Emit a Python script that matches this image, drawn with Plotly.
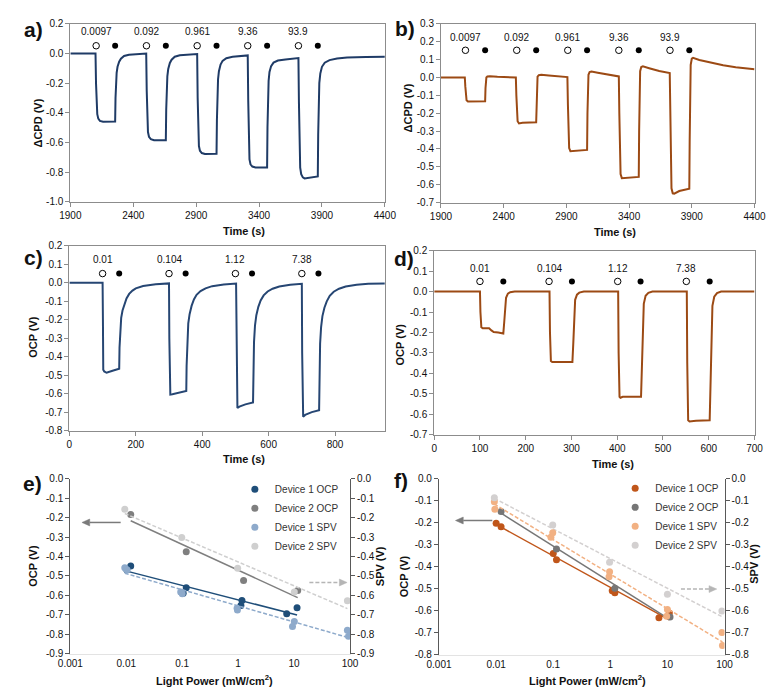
import numpy as np
import plotly.graph_objects as go

FONT = "Arial, 'Liberation Sans', sans-serif"
W, H = 774, 687

# ---------------- DATA ----------------
# Panel a: Device 1 dCPD vs time
a_points = [(1900, 0.000), (2000, 0.000), (2100, 0.000),
            (2104, -0.20), (2108, -0.36), (2114, -0.41), (2122, -0.44), (2135, -0.455), (2160, -0.460), (2210, -0.461), (2256, -0.459),
            (2259, -0.30), (2263, -0.18), (2268, -0.13), (2275, -0.09), (2288, -0.055), (2302, -0.035), (2327, -0.017), (2366, -0.009), (2430, -0.003), (2503, -0.001),
            (2507, -0.25), (2511, -0.46), (2517, -0.53), (2525, -0.562), (2540, -0.578), (2565, -0.585), (2610, -0.587), (2659, -0.585),
            (2662, -0.38), (2666, -0.22), (2671, -0.155), (2678, -0.105), (2691, -0.064), (2705, -0.042), (2730, -0.022), (2770, -0.012), (2840, -0.006), (2908, -0.004),
            (2912, -0.30), (2916, -0.55), (2922, -0.625), (2930, -0.656), (2945, -0.672), (2970, -0.678), (3020, -0.679), (3062, -0.677),
            (3065, -0.45), (3069, -0.25), (3074, -0.175), (3081, -0.12), (3094, -0.075), (3110, -0.05), (3140, -0.032), (3190, -0.022), (3250, -0.016), (3310, -0.013),
            (3314, -0.32), (3318, -0.63), (3324, -0.715), (3332, -0.748), (3347, -0.763), (3372, -0.770), (3420, -0.771), (3464, -0.770),
            (3467, -0.50), (3471, -0.27), (3476, -0.185), (3483, -0.125), (3496, -0.085), (3515, -0.062), (3550, -0.048), (3610, -0.040), (3670, -0.034), (3713, -0.031),
            (3717, -0.33), (3721, -0.67), (3727, -0.77), (3735, -0.815), (3748, -0.836), (3762, -0.843), (3800, -0.839), (3867, -0.830),
            (3870, -0.55), (3874, -0.30), (3879, -0.20), (3887, -0.135), (3900, -0.09), (3922, -0.062), (3960, -0.045), (4020, -0.034), (4100, -0.028), (4250, -0.024), (4400, -0.022)]
a_on = [2105, 2505, 2908, 3310, 3713]
a_off = [2256, 2659, 3062, 3464, 3867]
a_power = ["0.0097", "0.092", "0.961", "9.36", "93.9"]

# Panel b: Device 2 dCPD vs time
b_points = [(1900, 0.000), (2000, 0.000), (2090, 0.000),
            (2094, -0.05), (2098, -0.11), (2104, -0.128), (2115, -0.135), (2150, -0.134), (2252, -0.133),
            (2255, -0.06), (2258, -0.02), (2262, 0.000), (2270, 0.006), (2290, 0.007), (2350, 0.004), (2420, 0.001), (2497, 0.000),
            (2501, -0.10), (2505, -0.21), (2511, -0.245), (2522, -0.257), (2550, -0.253), (2659, -0.250),
            (2662, -0.12), (2665, -0.03), (2670, 0.005), (2680, 0.013), (2700, 0.015), (2760, 0.011), (2840, 0.005), (2908, 0.002),
            (2912, -0.15), (2916, -0.33), (2922, -0.395), (2932, -0.412), (2960, -0.410), (3065, -0.405),
            (3068, -0.20), (3071, -0.05), (3076, 0.015), (3085, 0.030), (3100, 0.033), (3150, 0.027), (3230, 0.015), (3318, 0.006),
            (3322, -0.20), (3326, -0.45), (3332, -0.54), (3342, -0.563), (3370, -0.562), (3477, -0.556),
            (3480, -0.30), (3483, -0.06), (3488, 0.035), (3497, 0.058), (3510, 0.062), (3560, 0.052), (3640, 0.036), (3724, 0.025),
            (3728, -0.25), (3732, -0.52), (3738, -0.62), (3748, -0.648), (3760, -0.650), (3800, -0.635), (3880, -0.622),
            (3883, -0.35), (3886, -0.05), (3891, 0.07), (3900, 0.105), (3910, 0.110), (3960, 0.098), (4050, 0.082), (4150, 0.068), (4250, 0.057), (4400, 0.046)]
b_on = [2095, 2504, 2911, 3318, 3726]
b_off = [2252, 2659, 3065, 3477, 3880]
b_power = ["0.0097", "0.092", "0.961", "9.36", "93.9"]

# Panel c: Device 1 OCP vs time
c_points = [(0, 0.000), (50, 0.000), (100, 0.000),
            (101, -0.20), (102, -0.47), (105, -0.480), (112, -0.487), (130, -0.476), (150, -0.465),
            (151, -0.35), (153, -0.25), (156, -0.19), (160, -0.15), (165, -0.12), (172, -0.085), (180, -0.06), (190, -0.042), (200, -0.03), (222, -0.017), (260, -0.008), (300, -0.003),
            (301, -0.30), (302, -0.59), (304, -0.605), (310, -0.603), (330, -0.593), (352, -0.586),
            (353, -0.45), (355, -0.30), (358, -0.22), (362, -0.17), (368, -0.125), (375, -0.09), (383, -0.065), (395, -0.045), (410, -0.03), (430, -0.018), (465, -0.009), (502, -0.004),
            (503, -0.35), (504, -0.66), (506, -0.678), (512, -0.670), (530, -0.658), (553, -0.648),
            (554, -0.50), (556, -0.32), (559, -0.23), (563, -0.175), (569, -0.13), (576, -0.095), (585, -0.068), (597, -0.047), (612, -0.032), (632, -0.02), (665, -0.01), (700, -0.005),
            (701, -0.38), (702, -0.71), (704, -0.725), (710, -0.715), (730, -0.700), (752, -0.690),
            (753, -0.52), (755, -0.33), (758, -0.24), (762, -0.18), (768, -0.135), (775, -0.10), (784, -0.07), (796, -0.048), (812, -0.032), (832, -0.02), (865, -0.01), (900, -0.005), (950, -0.003)]
c_on = [100, 300, 500, 700]
c_off = [150, 350, 550, 750]
c_power = ["0.01", "0.104", "1.12", "7.38"]

# Panel d: Device 2 OCP vs time
d_points = [(0, 0.000), (50, 0.000), (100, 0.000),
            (101, -0.10), (103, -0.175), (106, -0.180), (120, -0.180), (125, -0.190), (130, -0.198), (140, -0.200), (151, -0.205),
            (153, -0.15), (155, -0.07), (157, -0.03), (161, -0.01), (166, -0.003), (176, 0.000), (252, 0.000),
            (253, -0.20), (255, -0.340), (258, -0.345), (302, -0.345),
            (304, -0.25), (306, -0.09), (308, -0.04), (312, -0.015), (317, -0.005), (327, 0.000), (402, 0.000),
            (403, -0.30), (405, -0.515), (407, -0.520), (412, -0.515), (452, -0.515),
            (454, -0.38), (456, -0.14), (458, -0.06), (462, -0.02), (468, -0.006), (477, 0.000), (552, 0.000),
            (553, -0.35), (555, -0.630), (558, -0.636), (572, -0.632), (602, -0.630),
            (604, -0.45), (606, -0.17), (608, -0.07), (612, -0.025), (618, -0.007), (627, 0.000), (700, 0.000)]
d_on = [100, 251, 401, 551]
d_off = [151, 301, 451, 602]
d_power = ["0.01", "0.104", "1.12", "7.38"]

# Panel e: potentials vs light power (blue set)
e_d1_ocp_x = [0.0102, 0.012, 0.104, 0.118, 1.12, 1.17, 7.38, 11.3]
e_d1_ocp_y = [-0.468, -0.449, -0.589, -0.561, -0.652, -0.626, -0.695, -0.664]
e_d2_ocp_x = [0.012, 0.118, 1.25, 11.6]
e_d2_ocp_y = [-0.184, -0.376, -0.524, -0.575]
e_d1_spv_x = [0.0094, 0.0103, 0.094, 0.100, 0.957, 0.970, 9.36, 10.1, 89.8, 94.0]
e_d1_spv_y = [-0.458, -0.468, -0.583, -0.592, -0.667, -0.675, -0.760, -0.735, -0.780, -0.810]
e_d2_spv_x = [0.0094, 0.098, 0.98, 10.1, 89.8]
e_d2_spv_y = [-0.157, -0.302, -0.460, -0.583, -0.628]

# Panel f: potentials vs light power (brown set)
f_d1_ocp_x = [0.0100, 0.0122, 0.100, 0.114, 1.08, 1.20, 7.10, 10.8]
f_d1_ocp_y = [-0.203, -0.218, -0.340, -0.368, -0.510, -0.519, -0.632, -0.611]
f_d2_ocp_x = [0.0122, 0.114, 1.20, 11.1]
f_d2_ocp_y = [-0.149, -0.320, -0.498, -0.629]
f_d1_spv_x = [0.0093, 0.0095, 0.091, 0.098, 0.95, 0.97, 9.7, 10.0, 90.0, 92.0]
f_d1_spv_y = [-0.105, -0.139, -0.266, -0.246, -0.446, -0.423, -0.626, -0.595, -0.699, -0.759]
f_d2_spv_x = [0.0093, 0.098, 0.97, 10.0, 90.0]
f_d2_spv_y = [-0.087, -0.210, -0.380, -0.525, -0.602]

log_ticks = [0.001, 0.01, 0.1, 1, 10, 100]
log_tick_text = ["0.001", "0.01", "0.1", "1", "10", "100"]

# ---------------- STYLE ----------------
C_A = "#1F3B66"
C_C = "#264673"
C_B = "#9C4A14"
E_COL = {"d1o": "#1F4E79", "d2o": "#7F7F7F", "d1s": "#8EAACB", "d2s": "#CFCFCF"}
F_COL = {"d1o": "#C0561A", "d2o": "#767676", "d1s": "#F2B183", "d2s": "#D3D0D0"}


def px_x(p):
    return p / W


def px_y(p):
    return 1 - p / H


def dom(x0, x1, y0, y1):
    return [px_x(x0), px_x(x1)], [px_y(y1), px_y(y0)]


fig = go.Figure()

ts = [
    ("x", "y", a_points, C_A, a_on, a_off, a_power, 0.052, 0.149),
    ("x2", "y2", b_points, C_B, b_on, b_off, b_power, 0.152, 0.223),
    ("x3", "y3", c_points, C_C, c_on, c_off, c_power, 0.050, 0.126),
    ("x4", "y4", d_points, C_B, d_on, d_off, d_power, 0.050, 0.114),
]
annotations = []
for xa, ya, pts, col, on, off, labels, ymark, ylab in ts:
    t = [p[0] for p in pts]
    v = [p[1] for p in pts]
    fig.add_trace(go.Scatter(x=t, y=v, mode="lines", line=dict(color=col, width=2),
                             xaxis=xa, yaxis=ya, showlegend=False, hoverinfo="skip"))
    fig.add_trace(go.Scatter(x=on, y=[ymark] * len(on), mode="markers",
                             marker=dict(symbol="circle-open", size=6.5, color="#000", line=dict(width=1)),
                             xaxis=xa, yaxis=ya, showlegend=False))
    fig.add_trace(go.Scatter(x=off, y=[ymark] * len(off), mode="markers",
                             marker=dict(symbol="circle", size=6, color="#000"),
                             xaxis=xa, yaxis=ya, showlegend=False))
    for xo, lab in zip(on, labels):
        annotations.append(dict(x=xo, y=ylab, xref=xa, yref=ya, text=lab, showarrow=False,
                                font=dict(size=10, family=FONT, color="#111")))


def fit_line(x, y):
    lx = np.log10(x)
    m, b = np.polyfit(lx, y, 1)
    xs = np.array([min(x), max(x)])
    return xs, m * np.log10(xs) + b


def power_panel(xa, ya, ya2, cols, d1o, d2o, d1s, d2s, legend):
    series = [("Device 1 OCP", d1o, cols["d1o"], ya, "solid"),
              ("Device 2 OCP", d2o, cols["d2o"], ya, "solid"),
              ("Device 1 SPV", d1s, cols["d1s"], ya2, "4px,2px"),
              ("Device 2 SPV", d2s, cols["d2s"], ya2, "4px,2px")]
    for name, (x, y), col, yy, dash in series:
        xs, ys = fit_line(x, y)
        fig.add_trace(go.Scatter(x=xs, y=ys, mode="lines", line=dict(color=col, width=1.5, dash=dash),
                                 xaxis=xa, yaxis=yy, showlegend=False, hoverinfo="skip"))
    for name, (x, y), col, yy, dash in series:
        fig.add_trace(go.Scatter(x=x, y=y, mode="markers", name=name,
                                 marker=dict(color=col, size=7),
                                 xaxis=xa, yaxis=yy, legend=legend))


power_panel("x5", "y5", "y7", E_COL, (e_d1_ocp_x, e_d1_ocp_y), (e_d2_ocp_x, e_d2_ocp_y),
            (e_d1_spv_x, e_d1_spv_y), (e_d2_spv_x, e_d2_spv_y), "legend")
power_panel("x6", "y6", "y8", F_COL, (f_d1_ocp_x, f_d1_ocp_y), (f_d2_ocp_x, f_d2_ocp_y),
            (f_d1_spv_x, f_d1_spv_y), (f_d2_spv_x, f_d2_spv_y), "legend2")

# ---------------- AXES ----------------
tickfont = dict(size=10, family=FONT, color="#111")
LINE = "#8C8C8C"


def vals(a, b, step):
    n = int(round((b - a) / step))
    return [round(a + i * step, 4) for i in range(n + 1)]


def txt(vs, fmt):
    return [fmt.format(v) for v in vs]


def box_axis(domain, rng, tv, tt, anchor):
    return dict(domain=domain, range=rng, tickvals=tv, ticktext=tt, showline=True, linecolor=LINE,
                linewidth=1, mirror=True, ticks="outside", ticklen=4, tickcolor=LINE, tickfont=tickfont,
                showgrid=False, zeroline=False, anchor=anchor, fixedrange=True)


xa_d, ya_d = dom(51, 376, 10, 191)
xb_d, yb_d = dom(434, 758, 10, 192)
xc_d, yc_d = dom(50, 376, 236, 424)
xd_d, yd_d = dom(427, 758, 241, 428)
xe_d, ye_d = dom(51, 340, 473, 651)
xf_d, yf_d = dom(432, 727, 473, 652)

ta = vals(1900, 4400, 500)
tya = vals(-1.0, 0.2, 0.2)
tyb = vals(-0.7, 0.3, 0.1)
txc = vals(0, 800, 200)
tyc = vals(-0.8, 0.2, 0.1)
txd = vals(0, 700, 100)
tyd = vals(-0.7, 0.2, 0.1)
tye = vals(-0.9, 0.0, 0.1)
tyf = vals(-0.8, 0.0, 0.1)

layout = dict(
    width=W, height=H, margin=dict(l=0, r=0, t=0, b=0),
    paper_bgcolor="white", plot_bgcolor="white",
    font=dict(family=FONT, color="#111"),
    xaxis=box_axis(xa_d, [1900, 4400], ta, txt(ta, "{:d}"), "y"),
    yaxis=box_axis(ya_d, [-1.0, 0.2], tya, txt(tya, "{:.1f}"), "x"),
    xaxis2=box_axis(xb_d, [1900, 4400], ta, txt(ta, "{:d}"), "y2"),
    yaxis2=box_axis(yb_d, [-0.7, 0.3], tyb, txt(tyb, "{:.1f}"), "x2"),
    xaxis3=box_axis(xc_d, [0, 950], txc, txt(txc, "{:d}"), "y3"),
    yaxis3=box_axis(yc_d, [-0.8, 0.2], tyc, txt(tyc, "{:.1f}"), "x3"),
    xaxis4=box_axis(xd_d, [0, 700], txd, txt(txd, "{:d}"), "y4"),
    yaxis4=box_axis(yd_d, [-0.7, 0.2], tyd, txt(tyd, "{:.1f}"), "x4"),
)

DARK = "#595959"
for xk, yk, y2k, xtk, xd_, yd_, yr, tv in [("xaxis5", "yaxis5", "yaxis7", "xaxis7", xe_d, ye_d, [-0.9, 0.0], tye),
                                             ("xaxis6", "yaxis6", "yaxis8", "xaxis8", xf_d, yf_d, [-0.8, 0.0], tyf)]:
    n = xk[-1]
    layout[xk] = dict(domain=xd_, type="log", range=[-3, 2], tickvals=log_ticks, ticktext=log_tick_text,
                      showline=True, linecolor="#E3E3E3", linewidth=1, ticks="", tickfont=tickfont,
                      showgrid=False, zeroline=False, anchor="y" + n, fixedrange=True)
    layout[xtk] = dict(domain=xd_, type="log", range=[-3, 2], tickvals=log_ticks, showticklabels=False,
                       side="top", overlaying="x" + n, anchor="y" + n,
                       showline=True, linecolor=DARK, linewidth=1.2, ticks="outside", ticklen=4, tickcolor=DARK,
                       showgrid=False, zeroline=False, fixedrange=True)
    layout[yk] = dict(domain=yd_, range=yr, tickvals=tv, ticktext=txt(tv, "{:.1f}"),
                      showline=True, linecolor=DARK, linewidth=1.2, ticks="outside", ticklen=4, tickcolor=DARK,
                      tickfont=tickfont, showgrid=False, zeroline=False, anchor="x" + n, fixedrange=True)
    layout[y2k] = dict(range=yr, tickvals=tv, ticktext=txt(tv, "{:.1f}"), overlaying="y" + n, side="right",
                       showline=True, linecolor=DARK, linewidth=1.2, ticks="outside", ticklen=4, tickcolor=DARK,
                       tickfont=tickfont, showgrid=False, zeroline=False, anchor="x" + n, fixedrange=True)

legfont = dict(size=10, family=FONT, color="#333")
layout["legend"] = dict(x=px_x(221), y=px_y(469), xanchor="left", yanchor="top", font=legfont,
                        bgcolor="rgba(0,0,0,0)", itemwidth=30, tracegroupgap=0)
layout["legend2"] = dict(x=px_x(614), y=px_y(468), xanchor="left", yanchor="top", font=legfont,
                         bgcolor="rgba(0,0,0,0)", itemwidth=30, tracegroupgap=0)


# ---------------- TEXT ----------------
def ann(x, y, text, angle=0, size=11, bold=True):
    annotations.append(dict(x=px_x(x), y=px_y(y), xref="paper", yref="paper", text=f"<b>{text}</b>" if bold else text,
                            showarrow=False, textangle=angle, xanchor="center", yanchor="middle",
                            font=dict(size=size, family=FONT, color="#111")))


ann(230, 221, "Time (s)")
ann(614, 222, "Time (s)")
ann(230, 453, "Time (s)")
ann(612, 458, "Time (s)")
ann(200, 678, "Light Power (mW/cm<sup>2</sup>)")
ann(585, 678, "Light Power (mW/cm<sup>2</sup>)")
ann(18, 111, "ΔCPD (V)", -90)
ann(400, 96, "ΔCPD (V)", -90)
ann(13, 329, "OCP (V)", -90)
ann(392, 336, "OCP (V)", -90)
ann(13, 562, "OCP (V)", -90)
ann(371, 562, "SPV (V)", -90)
ann(396, 572, "OCP (V)", -90)
ann(758, 560, "SPV (V)", -90)
for lab, x, y in [("a)", 13, 16), ("b)", 397, 15), ("c)", 13, 248), ("d)", 396, 249), ("e)", 12, 478), ("f)", 393, 475)]:
    ann(x, y, lab, 0, 21)

# arrows drawn as paper shapes (pixel positions converted to paper fractions)
shapes = []


def arrow(x_from, x_to, y, color, dash):
    head = 8
    half = 3.5
    sgn = 1 if x_to > x_from else -1
    base = x_to - sgn * head
    shapes.append(dict(type="line", xref="paper", yref="paper", x0=px_x(x_from), x1=px_x(base),
                       y0=px_y(y), y1=px_y(y), line=dict(color=color, width=1.5, dash=dash)))
    path = (f"M {px_x(x_to)},{px_y(y)} L {px_x(base)},{px_y(y - half)} "
            f"L {px_x(base)},{px_y(y + half)} Z")
    shapes.append(dict(type="path", xref="paper", yref="paper", path=path,
                       fillcolor=color, line=dict(color=color, width=0.5)))


arrow(103, 63, 517.5, "#7A7A7A", "solid")
arrow(298, 337, 578.6, "#B5B5B5", "4px,2px")
arrow(487, 449, 515.5, "#7A7A7A", "solid")
arrow(682, 719, 585.3, "#B5B5B5", "4px,2px")

layout["annotations"] = annotations
layout["shapes"] = shapes
fig.update_layout(**layout)
fig.write_html("out.html")
